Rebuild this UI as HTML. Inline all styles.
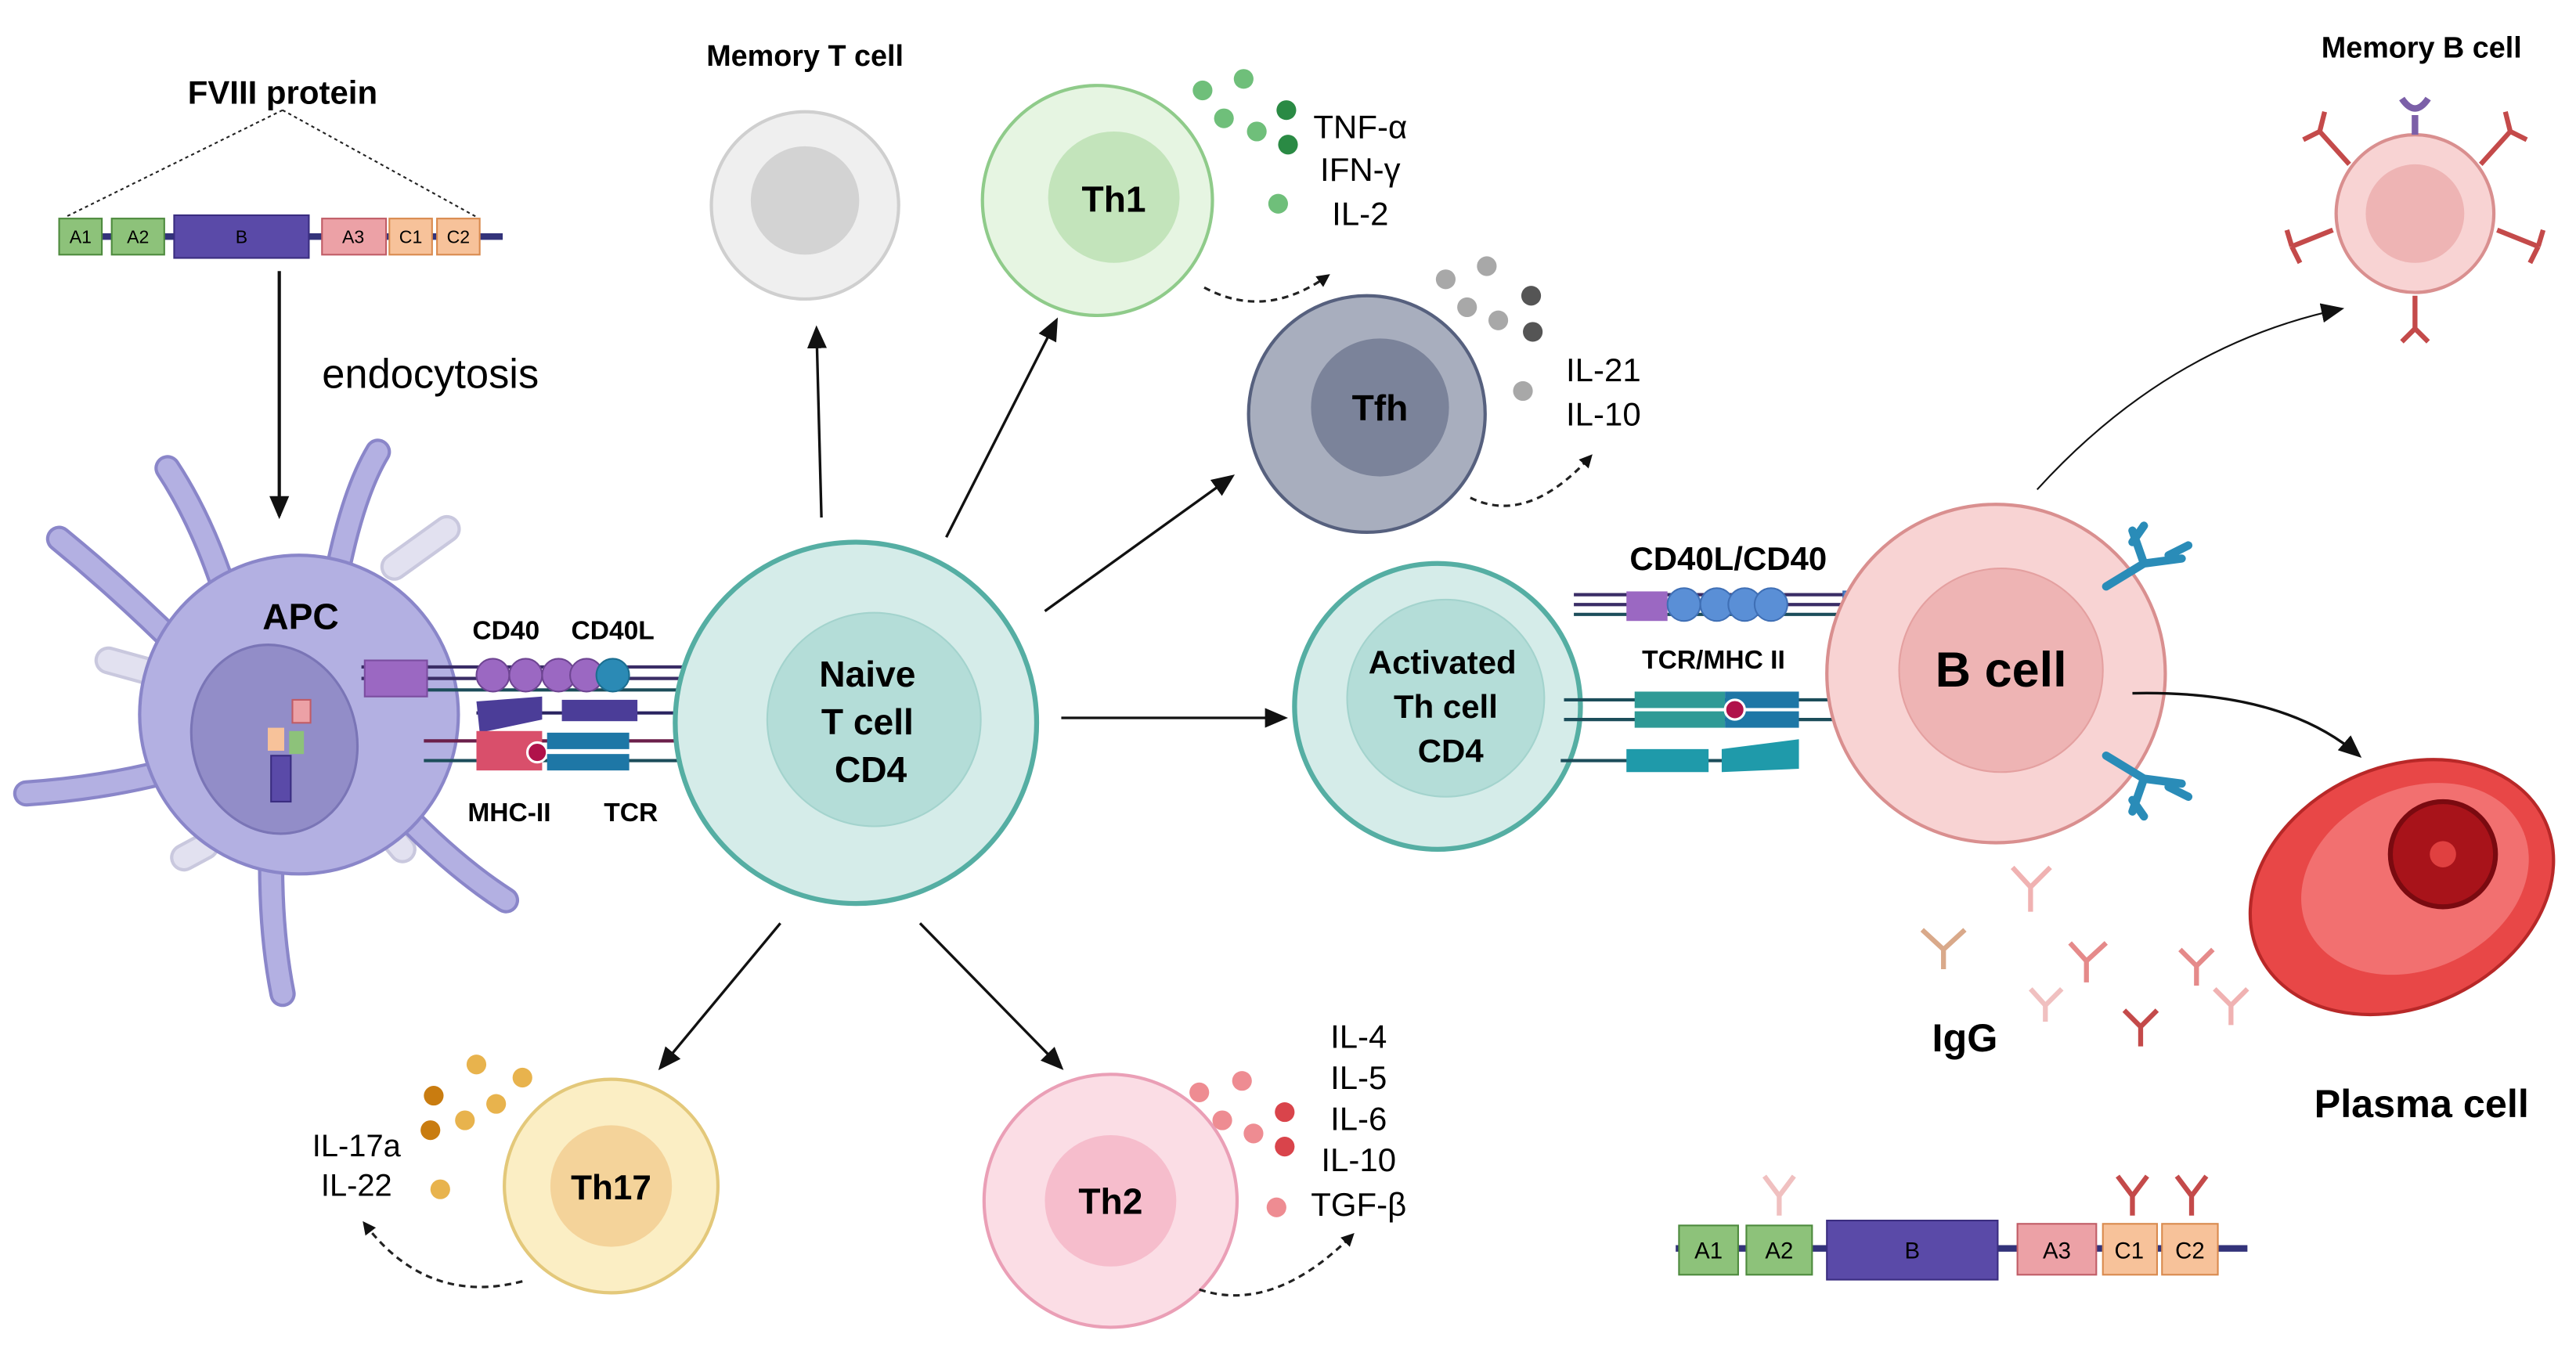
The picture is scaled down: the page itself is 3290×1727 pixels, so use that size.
<!DOCTYPE html>
<html><head><meta charset="utf-8"><style>
html,body{margin:0;padding:0;background:#fff;}
svg{display:block;}
text{font-family:"Liberation Sans",Arial,sans-serif;}
</style></head><body>
<svg width="3290" height="1727" viewBox="0 0 1568 823" xmlns="http://www.w3.org/2000/svg">
<defs>
<marker id="ah" markerWidth="8" markerHeight="8" refX="6" refY="4" orient="auto" markerUnits="userSpaceOnUse"><path d="M0,0 L8,4 L0,8 Z" fill="#111"/></marker>
<marker id="ah2" markerWidth="14" markerHeight="12" refX="12" refY="6" orient="auto" markerUnits="userSpaceOnUse"><path d="M0,0 L14,6 L0,12 Z" fill="#111"/></marker>
</defs>
<rect width="1568" height="823" fill="#fff"/>

<!-- FVIII top -->
<text x="172" y="63" font-size="20" font-weight="bold" text-anchor="middle">FVIII protein</text>
<line x1="172" y1="67" x2="40" y2="132" stroke="#222" stroke-dasharray="2,2"/>
<line x1="172" y1="67" x2="290" y2="132" stroke="#222" stroke-dasharray="2,2"/>
<line x1="36" y1="144" x2="306" y2="144" stroke="#33337a" stroke-width="4"/>
<g font-size="11" text-anchor="middle">
<rect x="36" y="133" width="26" height="22" fill="#8dc27a" stroke="#4d8a3d"/><text x="49" y="148">A1</text>
<rect x="68" y="133" width="32" height="22" fill="#8dc27a" stroke="#4d8a3d"/><text x="84" y="148">A2</text>
<rect x="106" y="131" width="82" height="26" fill="#5a4aa8" stroke="#3a2d80"/><text x="147" y="148">B</text>
<rect x="196" y="133" width="39" height="22" fill="#eca1a6" stroke="#c05c66"/><text x="215" y="148">A3</text>
<rect x="237" y="133" width="26" height="22" fill="#f7c29a" stroke="#d98a4e"/><text x="250" y="148">C1</text>
<rect x="266" y="133" width="26" height="22" fill="#f7c29a" stroke="#d98a4e"/><text x="279" y="148">C2</text>
</g>
<line x1="170" y1="165" x2="170" y2="314" stroke="#111" stroke-width="2" marker-end="url(#ah2)"/>
<text x="196" y="236" font-size="25">endocytosis</text>

<!-- APC -->
<g stroke-linecap="round" fill="none">
<g stroke="#c9c8de" stroke-width="17">
<path d="M240,345 L272,322"/><path d="M95,410 L66,402"/><path d="M125,515 L112,522"/><path d="M235,505 L245,517"/>
</g>
<g stroke="#e2e1f0" stroke-width="13">
<path d="M240,345 L272,322"/><path d="M95,410 L66,402"/><path d="M125,515 L112,522"/><path d="M235,505 L245,517"/>
</g>
<g stroke="#8a86c9" stroke-width="16">
<path d="M140,370 Q125,320 102,285"/><path d="M205,350 Q215,300 230,275"/><path d="M110,395 Q75,360 36,328"/><path d="M100,470 Q60,480 16,483"/><path d="M165,525 Q165,570 172,605"/><path d="M250,500 Q280,530 308,548"/>
</g>
<g stroke="#b3b0e2" stroke-width="12">
<path d="M140,370 Q125,320 102,285"/><path d="M205,350 Q215,300 230,275"/><path d="M110,395 Q75,360 36,328"/><path d="M100,470 Q60,480 16,483"/><path d="M165,525 Q165,570 172,605"/><path d="M250,500 Q280,530 308,548"/>
</g>
</g>
<ellipse cx="182" cy="435" rx="98" ry="98" fill="#8a86c9"/>
<ellipse cx="182" cy="435" rx="96" ry="96" fill="#b3b0e2"/>
<ellipse cx="167" cy="450" rx="50" ry="58" transform="rotate(-15 167 450)" fill="#928dc8" stroke="#7a75b6" stroke-width="1.5"/>
<text x="183" y="383" font-size="22" font-weight="bold" text-anchor="middle">APC</text>
<rect x="165" y="460" width="12" height="28" fill="#5a4aa8" stroke="#3a2d80"/>
<rect x="176" y="445" width="9" height="14" fill="#8dc27a"/>
<rect x="163" y="443" width="10" height="14" fill="#f7c29a"/>
<rect x="178" y="426" width="11" height="14" fill="#eca1a6" stroke="#c05c66"/>

<!-- APC receptors -->
<g>
<line x1="220" y1="406" x2="430" y2="406" stroke="#3a2d66" stroke-width="2"/>
<line x1="220" y1="413" x2="430" y2="413" stroke="#3a2d66" stroke-width="2"/>
<line x1="230" y1="420" x2="420" y2="420" stroke="#1c4d5a" stroke-width="2"/>
<rect x="222" y="402" width="38" height="22" fill="#9b68c2" stroke="#7b4da0"/>
<circle cx="300" cy="411" r="10" fill="#9b68c2" stroke="#6e4592"/>
<circle cx="320" cy="411" r="10" fill="#9b68c2" stroke="#6e4592"/>
<circle cx="340" cy="411" r="10" fill="#9b68c2" stroke="#6e4592"/>
<circle cx="357" cy="411" r="10" fill="#9b68c2" stroke="#6e4592"/>
<circle cx="373" cy="411" r="10" fill="#2b8ab5" stroke="#1c6e90"/>
<line x1="290" y1="434" x2="430" y2="434" stroke="#2a2460" stroke-width="2"/>
<path d="M290,427 L330,424 L330,438 L292,446 Z" fill="#4b3d98"/>
<rect x="342" y="426" width="46" height="13" fill="#4b3d98"/>
<line x1="258" y1="451" x2="425" y2="451" stroke="#6b1f4a" stroke-width="2"/>
<line x1="258" y1="463" x2="425" y2="463" stroke="#1c4d5a" stroke-width="2"/>
<rect x="290" y="445" width="40" height="24" fill="#d94f6b"/>
<circle cx="327" cy="458" r="6" fill="#b0124a" stroke="#fff" stroke-width="1.5"/>
<rect x="333" y="446" width="50" height="10" fill="#1e77a6"/>
<rect x="333" y="459" width="50" height="10" fill="#1e77a6"/>
</g>
<g font-size="16" font-weight="bold" text-anchor="middle">
<text x="308" y="389">CD40</text><text x="373" y="389">CD40L</text>
<text x="310" y="500">MHC-II</text><text x="384" y="500">TCR</text>
</g>

<!-- Naive T -->
<circle cx="521" cy="440" r="110" fill="#d5ece9" stroke="#55aea3" stroke-width="3"/>
<circle cx="532" cy="438" r="65" fill="#b4ddd8" stroke="#a3d3cd"/>
<g font-size="22" font-weight="bold" text-anchor="middle"><text x="528" y="418">Naive</text><text x="528" y="447">T cell</text><text x="530" y="476">CD4</text></g>

<!-- Memory T -->
<text x="490" y="40" font-size="18" font-weight="bold" text-anchor="middle">Memory T cell</text>
<circle cx="490" cy="125" r="57" fill="#efefef" stroke="#cfcfcf" stroke-width="2"/>
<circle cx="490" cy="122" r="33" fill="#d3d3d3"/>

<!-- Th1 -->
<circle cx="668" cy="122" r="70" fill="#e6f5e2" stroke="#8fcb8a" stroke-width="2"/>
<circle cx="678" cy="120" r="40" fill="#c3e4bb"/>
<text x="678" y="129" font-size="22" font-weight="bold" text-anchor="middle">Th1</text>
<g fill="#6fbf7a"><circle cx="732" cy="55" r="6"/><circle cx="757" cy="48" r="6"/><circle cx="745" cy="72" r="6"/><circle cx="765" cy="80" r="6"/><circle cx="778" cy="124" r="6"/></g>
<g fill="#2a8a44"><circle cx="783" cy="67" r="6"/><circle cx="784" cy="88" r="6"/></g>
<g font-size="20" text-anchor="middle"><text x="828" y="84">TNF-α</text><text x="828" y="110">IFN-γ</text><text x="828" y="137">IL-2</text></g>
<path d="M733,175 Q770,195 808,168" fill="none" stroke="#222" stroke-width="1.5" stroke-dasharray="4,3" marker-end="url(#ah)"/>

<!-- Tfh -->
<circle cx="832" cy="252" r="72" fill="#a8aebe" stroke="#56607e" stroke-width="2"/>
<circle cx="840" cy="248" r="42" fill="#7b839a"/>
<text x="840" y="256" font-size="22" font-weight="bold" text-anchor="middle">Tfh</text>
<g fill="#a8a8a8"><circle cx="880" cy="170" r="6"/><circle cx="905" cy="162" r="6"/><circle cx="893" cy="187" r="6"/><circle cx="912" cy="195" r="6"/><circle cx="927" cy="238" r="6"/></g>
<g fill="#555"><circle cx="932" cy="180" r="6"/><circle cx="933" cy="202" r="6"/></g>
<g font-size="20" text-anchor="middle"><text x="976" y="232">IL-21</text><text x="976" y="259">IL-10</text></g>
<path d="M895,303 Q930,320 968,278" fill="none" stroke="#222" stroke-width="1.5" stroke-dasharray="4,3" marker-end="url(#ah)"/>

<!-- Activated -->
<circle cx="875" cy="430" r="87" fill="#d5ece9" stroke="#55aea3" stroke-width="3"/>
<circle cx="880" cy="425" r="60" fill="#b4ddd8" stroke="#a3d3cd"/>
<g font-size="20" font-weight="bold" text-anchor="middle"><text x="878" y="410">Activated</text><text x="880" y="437">Th cell</text><text x="883" y="464">CD4</text></g>

<!-- Activated receptors -->
<g>
<line x1="958" y1="362" x2="1160" y2="362" stroke="#3a2d66" stroke-width="2"/>
<line x1="958" y1="368" x2="1160" y2="368" stroke="#3a2d66" stroke-width="2"/>
<line x1="958" y1="374" x2="1160" y2="374" stroke="#1c4d5a" stroke-width="2"/>
<rect x="990" y="360" width="25" height="18" fill="#9b68c2"/>
<g fill="#5a8fd6" stroke="#3f6fb5"><circle cx="1025" cy="368" r="10"/><circle cx="1045" cy="368" r="10"/><circle cx="1062" cy="368" r="10"/><circle cx="1078" cy="368" r="10"/><rect x="1122" y="360" width="36" height="16"/></g>
<line x1="952" y1="426" x2="1130" y2="426" stroke="#1c4d5a" stroke-width="2"/>
<line x1="952" y1="438" x2="1130" y2="438" stroke="#1c4d5a" stroke-width="2"/>
<rect x="995" y="421" width="55" height="10" fill="#2f9a96"/>
<rect x="995" y="433" width="55" height="10" fill="#2f9a96"/>
<rect x="1050" y="421" width="45" height="10" fill="#1e77a6"/>
<rect x="1050" y="433" width="45" height="10" fill="#1e77a6"/>
<circle cx="1056" cy="432" r="6" fill="#b0124a" stroke="#fff" stroke-width="1.5"/>
<line x1="950" y1="463" x2="1090" y2="463" stroke="#1c4d5a" stroke-width="2"/>
<rect x="990" y="456" width="50" height="14" fill="#1f9aaa"/>
<path d="M1048,456 L1095,450 L1095,468 L1048,470 Z" fill="#1f9aaa"/>
</g>
<g font-size="20" font-weight="bold" text-anchor="middle"><text x="1052" y="347">CD40L/CD40</text></g>
<text x="1043" y="407" font-size="16" font-weight="bold" text-anchor="middle">TCR/MHC II</text>

<!-- B cell -->
<circle cx="1215" cy="410" r="103" fill="#f8d3d3" stroke="#d98f8f" stroke-width="2"/>
<circle cx="1218" cy="408" r="62" fill="#eeb4b4" stroke="#e4a0a0"/>
<text x="1218" y="418" font-size="30" font-weight="bold" text-anchor="middle">B cell</text>
<g stroke="#2a8cb8" stroke-width="5" fill="none" stroke-linecap="round">
<path d="M1282,357 L1305,343 M1305,343 L1298,323 M1305,343 L1328,340 M1298,330 L1305,320 M1320,338 L1332,332"/>
<path d="M1282,460 L1305,474 M1305,474 L1298,494 M1305,474 L1328,477 M1298,487 L1305,497 M1320,479 L1332,485"/>
</g>

<!-- Memory B -->
<text x="1474" y="35" font-size="18" font-weight="bold" text-anchor="middle">Memory B cell</text>
<circle cx="1470" cy="130" r="48" fill="#f8d3d3" stroke="#d98f8f" stroke-width="2"/>
<circle cx="1470" cy="130" r="30" fill="#eeb4b4"/>
<g stroke="#c44a4a" stroke-width="3" fill="none">
<path d="M1430,100 L1412,80 M1412,80 L1402,85 M1412,80 L1415,68"/>
<path d="M1510,100 L1528,80 M1528,80 L1538,85 M1528,80 L1525,68"/>
<path d="M1420,140 L1395,150 M1395,150 L1392,140 M1395,150 L1400,160"/>
<path d="M1520,140 L1545,150 M1545,150 L1548,140 M1545,150 L1540,160"/>
<path d="M1470,180 L1470,200 M1470,200 L1462,208 M1470,200 L1478,208"/>
</g>
<path d="M1470,82 L1470,70 M1462,60 Q1470,72 1478,60" stroke="#7b5fa8" stroke-width="4" fill="none"/>

<!-- Plasma cell -->
<ellipse cx="1462" cy="540" rx="96" ry="73" transform="rotate(-25 1462 540)" fill="#e84747" stroke="#b82828" stroke-width="2"/>
<ellipse cx="1470" cy="535" rx="72" ry="55" transform="rotate(-25 1470 535)" fill="#f27070"/>
<circle cx="1487" cy="520" r="32" fill="#a8131a" stroke="#7a0a10" stroke-width="3"/>
<circle cx="1487" cy="520" r="8" fill="#e04040"/>
<text x="1474" y="680" font-size="24" font-weight="bold" text-anchor="middle">Plasma cell</text>

<!-- IgG -->
<text x="1196" y="640" font-size="24" font-weight="bold" text-anchor="middle">IgG</text>
<g stroke-width="3" fill="none">
<path d="M1183,578 L1183,590 M1183,578 L1170,566 M1183,578 L1196,566" stroke="#d9a98a"/>
<path d="M1236,540 L1236,555 M1236,540 L1225,528 M1236,540 L1248,528" stroke="#f0b2b2"/>
<path d="M1270,585 L1270,598 M1270,585 L1260,574 M1270,585 L1282,574" stroke="#e58a8a"/>
<path d="M1245,612 L1245,622 M1245,612 L1236,602 M1245,612 L1255,602" stroke="#f0c0c0"/>
<path d="M1303,625 L1303,637 M1303,625 L1293,615 M1303,625 L1313,615" stroke="#c44a4a"/>
<path d="M1337,588 L1337,600 M1337,588 L1327,578 M1337,588 L1347,578" stroke="#e58a8a"/>
<path d="M1358,612 L1358,624 M1358,612 L1348,602 M1358,612 L1368,602" stroke="#f0b2b2"/>
</g>

<!-- Bottom FVIII -->
<line x1="1020" y1="760" x2="1368" y2="760" stroke="#33337a" stroke-width="4"/>
<g font-size="14" text-anchor="middle">
<rect x="1022" y="746" width="36" height="30" fill="#8dc27a" stroke="#4d8a3d"/><text x="1040" y="766">A1</text>
<rect x="1063" y="746" width="40" height="30" fill="#8dc27a" stroke="#4d8a3d"/><text x="1083" y="766">A2</text>
<rect x="1112" y="743" width="104" height="36" fill="#5a4aa8" stroke="#3a2d80"/><text x="1164" y="766">B</text>
<rect x="1228" y="745" width="48" height="31" fill="#eca1a6" stroke="#c05c66"/><text x="1252" y="766">A3</text>
<rect x="1280" y="745" width="33" height="31" fill="#f7c29a" stroke="#d98a4e"/><text x="1296" y="766">C1</text>
<rect x="1316" y="745" width="34" height="31" fill="#f7c29a" stroke="#d98a4e"/><text x="1333" y="766">C2</text>
</g>
<g stroke-width="3" fill="none">
<path d="M1083,740 L1083,728 M1083,728 L1074,716 M1083,728 L1092,716" stroke="#f0c0c0"/>
<path d="M1298,740 L1298,728 M1298,728 L1289,716 M1298,728 L1307,716" stroke="#c44a4a"/>
<path d="M1334,740 L1334,728 M1334,728 L1325,716 M1334,728 L1343,716" stroke="#c44a4a"/>
</g>

<!-- Th17 -->
<circle cx="372" cy="722" r="65" fill="#fbeec4" stroke="#e3c87a" stroke-width="2"/>
<circle cx="372" cy="722" r="37" fill="#f4d39a"/>
<text x="372" y="730" font-size="21" font-weight="bold" text-anchor="middle">Th17</text>
<g fill="#e8b34d"><circle cx="290" cy="648" r="6"/><circle cx="318" cy="656" r="6"/><circle cx="283" cy="682" r="6"/><circle cx="302" cy="672" r="6"/><circle cx="268" cy="724" r="6"/></g>
<g fill="#c97c10"><circle cx="264" cy="667" r="6"/><circle cx="262" cy="688" r="6"/></g>
<g font-size="19" text-anchor="middle"><text x="217" y="704">IL-17a</text><text x="217" y="728">IL-22</text></g>
<path d="M318,780 Q260,795 222,745" fill="none" stroke="#222" stroke-width="1.5" stroke-dasharray="4,3" marker-end="url(#ah)"/>

<!-- Th2 -->
<circle cx="676" cy="731" r="77" fill="#fbdde5" stroke="#ea9fb6" stroke-width="2"/>
<circle cx="676" cy="731" r="40" fill="#f6bdcc"/>
<text x="676" y="739" font-size="22" font-weight="bold" text-anchor="middle">Th2</text>
<g fill="#ee8c92"><circle cx="730" cy="665" r="6"/><circle cx="756" cy="658" r="6"/><circle cx="744" cy="682" r="6"/><circle cx="763" cy="690" r="6"/><circle cx="777" cy="735" r="6"/></g>
<g fill="#d9444b"><circle cx="782" cy="677" r="6"/><circle cx="782" cy="698" r="6"/></g>
<g font-size="20" text-anchor="middle"><text x="827" y="638">IL-4</text><text x="827" y="663">IL-5</text><text x="827" y="688">IL-6</text><text x="827" y="713">IL-10</text><text x="827" y="740">TGF-β</text></g>
<path d="M730,785 Q775,800 823,752" fill="none" stroke="#222" stroke-width="1.5" stroke-dasharray="4,3" marker-end="url(#ah)"/>

<!-- Arrows -->
<g stroke="#111" stroke-width="1.6" fill="none">
<line x1="500" y1="315" x2="497" y2="200" marker-end="url(#ah2)"/>
<line x1="576" y1="327" x2="643" y2="195" marker-end="url(#ah2)"/>
<line x1="636" y1="372" x2="750" y2="290" marker-end="url(#ah2)"/>
<line x1="646" y1="437" x2="782" y2="437" marker-end="url(#ah2)"/>
<line x1="475" y1="562" x2="402" y2="650" marker-end="url(#ah2)"/>
<line x1="560" y1="562" x2="646" y2="650" marker-end="url(#ah2)"/>
<path d="M1240,298 Q1320,210 1425,188" marker-end="url(#ah2)" stroke-width="1"/>
<path d="M1298,422 Q1390,420 1436,460" marker-end="url(#ah2)"/>
</g>
</svg>
</body></html>
